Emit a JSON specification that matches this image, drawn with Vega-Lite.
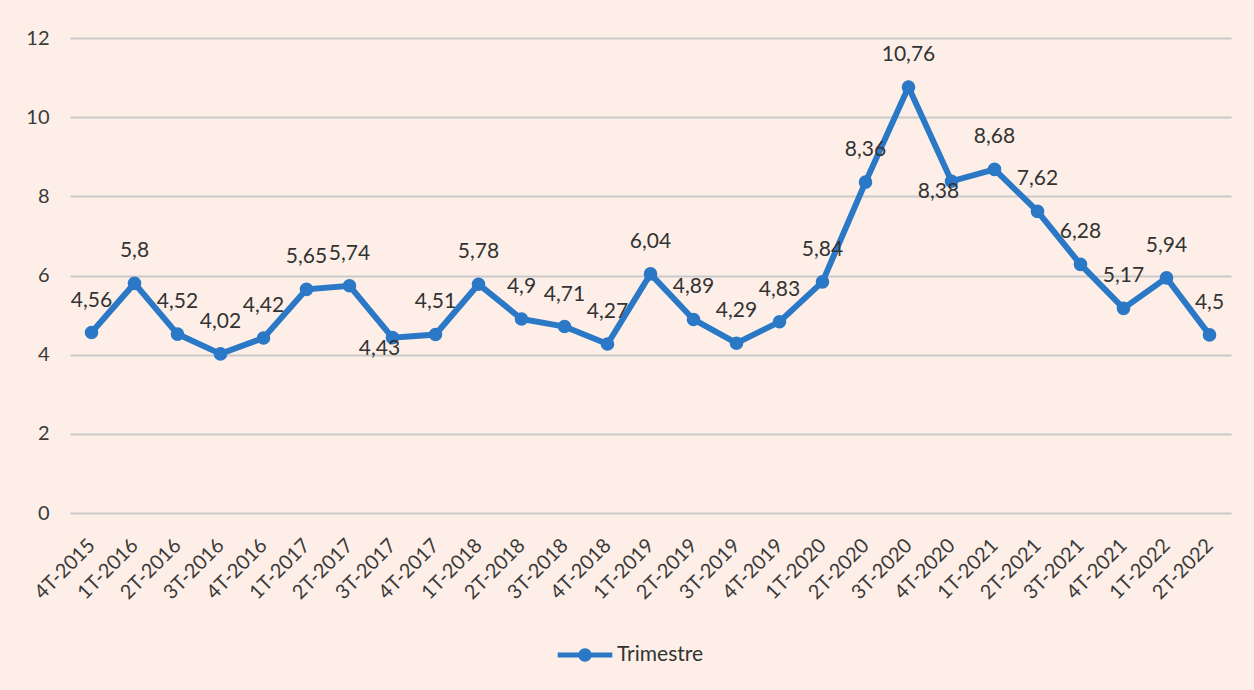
{
  "$schema": "https://vega.github.io/schema/vega-lite/v6.json",
  "width": 1161,
  "height": 475,
  "autosize": {"type": "none"},
  "padding": {"left": 70, "top": 38, "right": 23, "bottom": 177},
  "background": "#fdefe7",
  "config": {
    "view": {"stroke": null},
    "font": "Lato",
    "locale": {"number": {"decimal": ",", "thousands": ".", "grouping": [3], "currency": ["", " €"]}}
  },
  "data": {
    "values": [
      {"q": "4T-2015", "v": 4.56},
      {"q": "1T-2016", "v": 5.8},
      {"q": "2T-2016", "v": 4.52},
      {"q": "3T-2016", "v": 4.02},
      {"q": "4T-2016", "v": 4.42},
      {"q": "1T-2017", "v": 5.65},
      {"q": "2T-2017", "v": 5.74},
      {"q": "3T-2017", "v": 4.43},
      {"q": "4T-2017", "v": 4.51},
      {"q": "1T-2018", "v": 5.78},
      {"q": "2T-2018", "v": 4.9},
      {"q": "3T-2018", "v": 4.71},
      {"q": "4T-2018", "v": 4.27},
      {"q": "1T-2019", "v": 6.04},
      {"q": "2T-2019", "v": 4.89},
      {"q": "3T-2019", "v": 4.29},
      {"q": "4T-2019", "v": 4.83},
      {"q": "1T-2020", "v": 5.84},
      {"q": "2T-2020", "v": 8.36},
      {"q": "3T-2020", "v": 10.76},
      {"q": "4T-2020", "v": 8.38},
      {"q": "1T-2021", "v": 8.68},
      {"q": "2T-2021", "v": 7.62},
      {"q": "3T-2021", "v": 6.28},
      {"q": "4T-2021", "v": 5.17},
      {"q": "1T-2022", "v": 5.94},
      {"q": "2T-2022", "v": 4.5}
    ]
  },
  "encoding": {
    "x": {
      "field": "q",
      "type": "ordinal",
      "sort": null,
      "scale": {"type": "point", "padding": 0.5},
      "axis": {
        "title": null,
        "labelAngle": -45,
        "labelAlign": "right",
        "labelBaseline": "middle",
        "labelPadding": 29,
        "labelFontSize": 20,
        "labelColor": "#3a3a3a",
        "labelFont": "Lato",
        "ticks": false,
        "domain": false,
        "grid": false
      }
    },
    "y": {
      "field": "v",
      "type": "quantitative",
      "scale": {"domain": [0, 12], "nice": false},
      "axis": {
        "title": null,
        "values": [0, 2, 4, 6, 8, 10, 12],
        "labelFontSize": 20,
        "labelColor": "#3a3a3a",
        "labelFont": "Lato",
        "labelPadding": 21,
        "ticks": false,
        "domain": false,
        "grid": true,
        "gridColor": "#c9c9c9",
        "gridWidth": 2
      }
    }
  },
  "layer": [
    {
      "mark": {"type": "line", "strokeWidth": 6},
      "encoding": {
        "color": {
          "datum": "Trimestre",
          "type": "nominal",
          "scale": {"range": ["#2a78c6"]},
          "legend": {
            "title": null,
            "orient": "none",
            "legendX": 502,
            "legendY": 604,
            "padding": 0,
            "symbolType": "M-2.1,-0.2 H2.1 V0.2 H-2.1 Z M-0.52,0 A0.52,0.52 0 1,1 0.52,0 A0.52,0.52 0 1,1 -0.52,0 Z",
            "symbolSize": 676,
            "symbolStrokeWidth": 0,
            "symbolFillColor": "#2a78c6",
            "symbolOpacity": 1,
            "labelFontSize": 21,
            "labelFont": "Lato",
            "labelColor": "#333333",
            "labelOffset": 19,
            "encode": {
              "symbols": {"update": {"fill": {"value": "#2a78c6"}, "stroke": {"value": "transparent"}, "opacity": {"value": 1}}}
            }
          }
        }
      }
    },
    {
      "mark": {"type": "point", "filled": true, "size": 185, "opacity": 1},
      "encoding": {
        "color": {"datum": "Trimestre", "type": "nominal"}
      }
    },
    {
      "transform": [{"filter": {"not": {"field": "q", "oneOf": ["3T-2017", "4T-2020"]}}}],
      "mark": {"type": "text", "dy": -32, "baseline": "middle", "align": "center", "fontSize": 21, "font": "Lato", "color": "#333333"},
      "encoding": {
        "text": {"field": "v", "type": "quantitative", "format": ".2~f"}
      }
    },
    {
      "transform": [{"filter": {"field": "q", "oneOf": ["3T-2017", "4T-2020"]}}],
      "mark": {"type": "text", "dy": 11, "dx": -13, "baseline": "middle", "align": "center", "fontSize": 21, "font": "Lato", "color": "#333333"},
      "encoding": {
        "text": {"field": "v", "type": "quantitative", "format": ".2~f"}
      }
    }
  ]
}
